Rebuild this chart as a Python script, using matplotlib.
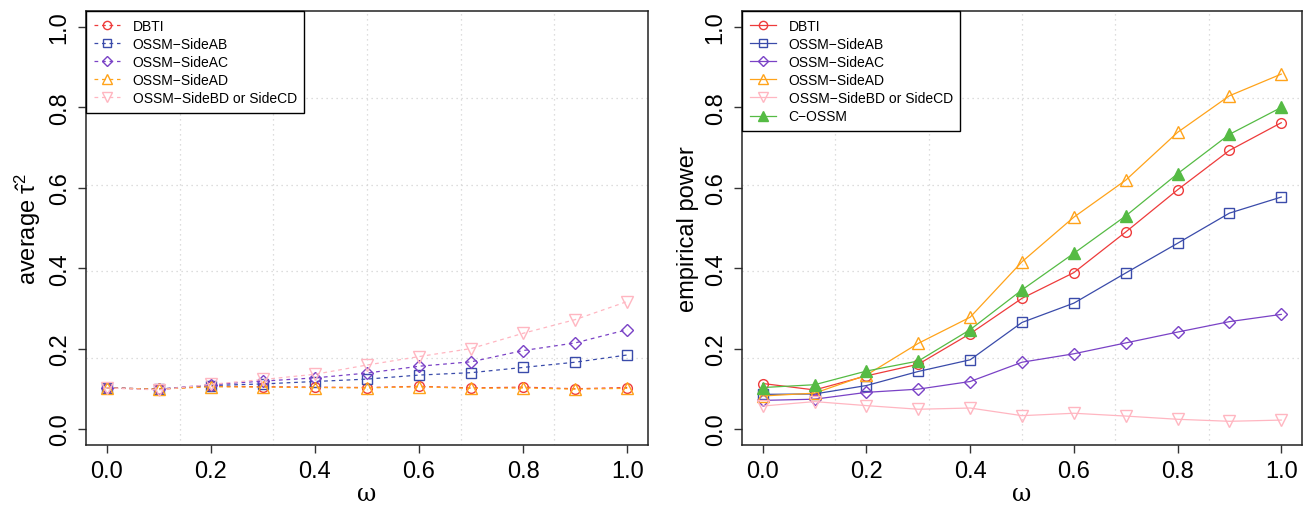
import matplotlib
matplotlib.use("Agg")
import matplotlib.pyplot as plt
from matplotlib import font_manager as fm
import numpy as np

omega = [0.0, 0.1, 0.2, 0.3, 0.4, 0.5, 0.6, 0.7, 0.8, 0.9, 1.0]

# Left panel: average tau^2
tau_dbti = [0.102, 0.099, 0.106, 0.105, 0.104, 0.103, 0.106, 0.102, 0.104, 0.100, 0.103]
tau_ab   = [0.102, 0.099, 0.108, 0.112, 0.118, 0.124, 0.134, 0.140, 0.153, 0.166, 0.184]
tau_ac   = [0.102, 0.099, 0.110, 0.119, 0.127, 0.139, 0.156, 0.167, 0.195, 0.214, 0.247]
tau_ad   = [0.102, 0.099, 0.105, 0.104, 0.103, 0.102, 0.105, 0.101, 0.102, 0.099, 0.101]
tau_bd   = [0.102, 0.097, 0.111, 0.123, 0.136, 0.159, 0.180, 0.200, 0.238, 0.272, 0.317]

# Right panel: empirical power
pow_dbti = [0.113, 0.097, 0.132, 0.161, 0.237, 0.325, 0.389, 0.490, 0.595, 0.693, 0.762]
pow_ab   = [0.086, 0.087, 0.108, 0.143, 0.172, 0.265, 0.313, 0.388, 0.462, 0.537, 0.577]
pow_ac   = [0.071, 0.074, 0.091, 0.099, 0.118, 0.166, 0.187, 0.214, 0.241, 0.267, 0.285]
pow_ad   = [0.082, 0.089, 0.134, 0.213, 0.278, 0.416, 0.527, 0.619, 0.738, 0.829, 0.883]
pow_bd   = [0.057, 0.068, 0.058, 0.049, 0.052, 0.033, 0.039, 0.032, 0.024, 0.019, 0.022]
pow_coss = [0.103, 0.110, 0.144, 0.169, 0.247, 0.346, 0.437, 0.530, 0.635, 0.733, 0.800]

labels = ["DBTI", "OSSM\u2212SideAB", "OSSM\u2212SideAC", "OSSM\u2212SideAD",
          "OSSM\u2212SideBD or SideCD", "C\u2212OSSM"]
colors = ["#EE3B3B", "#3A4BAA", "#7A42C6", "#FFA31A", "#FFB6C1", "#55BB44"]
markers = ["o", "s", "D", "^", "v", "^"]
msizes = [7, 6.5, 6, 8.5, 8.5, 8]
fills = ["none", "none", "none", "none", "none", "full"]

names = {f.name for f in fm.fontManager.ttflist}
tick_family = ["Liberation Sans Narrow"] if "Liberation Sans Narrow" in names else ["Liberation Sans"]
plt.rcParams["font.family"] = ["Liberation Sans", "DejaVu Sans"]
plt.rcParams["mathtext.fontset"] = "custom"
plt.rcParams["mathtext.rm"] = "Liberation Sans"
plt.rcParams["mathtext.it"] = "Liberation Sans"

fig = plt.figure(figsize=(13.12, 5.06), dpi=100)
ax1 = fig.add_axes([86/1312, 60/506, 562/1312, 434/506])
ax2 = fig.add_axes([742/1312, 60/506, 560/1312, 434/506])


def style(ax, ylabel):
    ax.set_xlim(-0.04, 1.04)
    ax.set_ylim(-0.04, 1.04)
    ax.set_xticks([0.0, 0.2, 0.4, 0.6, 0.8, 1.0])
    ax.set_yticks([0.0, 0.2, 0.4, 0.6, 0.8, 1.0])
    ax.set_xticklabels(["0.0", "0.2", "0.4", "0.6", "0.8", "1.0"], family=tick_family, fontsize=17)
    ax.set_yticklabels(["0.0", "0.2", "0.4", "0.6", "0.8", "1.0"], family=tick_family, fontsize=17,
                       rotation=90, va="center")
    ax.tick_params(direction="out", length=6, width=1, color="#333333", pad=5)
    for s in ax.spines.values():
        s.set_linewidth(1.1)
        s.set_color("#222222")
    # R-style grid: equal divisions of the plot region
    x0, x1 = ax.get_xlim()
    y0, y1 = ax.get_ylim()
    for k in range(1, 6):
        ax.axvline(x0 + k * (x1 - x0) / 6, color="#d3d3d3", lw=0.9, ls=(0, (1, 3)), zorder=0)
    for k in range(1, 5):
        ax.axhline(y0 + k * (y1 - y0) / 5, color="#d3d3d3", lw=0.9, ls=(0, (1, 3)), zorder=0)
    ax.set_xlabel("\u03c9", fontsize=17, family=["DejaVu Serif"], labelpad=0)
    ax.set_ylabel(ylabel, fontsize=17, labelpad=4)


left_series = [tau_dbti, tau_ab, tau_ac, tau_ad, tau_bd]
for i, ys in enumerate(left_series):
    ax1.plot(omega, ys, color=colors[i], ls=(0, (3, 3)), lw=0.9, marker=markers[i],
             ms=msizes[i], mfc="none", mec=colors[i], mew=1.0, label=labels[i])

right_series = [pow_dbti, pow_ab, pow_ac, pow_ad, pow_bd, pow_coss]
for i, ys in enumerate(right_series):
    ax2.plot(omega, ys, color=colors[i], ls="-", lw=0.9, marker=markers[i],
             ms=msizes[i], mfc=(colors[i] if fills[i] == "full" else "none"),
             mec=colors[i], mew=1.0, label=labels[i])

style(ax1, r"average $\hat{\tau}^2$")
style(ax2, "empirical power")

for ax in (ax1, ax2):
    leg = ax.legend(loc="upper left", borderaxespad=0, fancybox=False, framealpha=1,
                    edgecolor="black", fontsize=10, labelspacing=0.3, handlelength=1.9,
                    handletextpad=0.9, borderpad=0.55, markerscale=0.85)
    leg.get_frame().set_linewidth(1.0)

fig.savefig("out.png", dpi=100)
